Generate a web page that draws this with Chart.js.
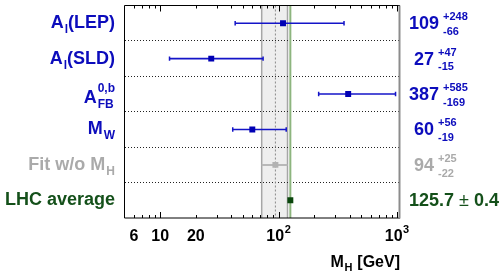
<!DOCTYPE html>
<html><head><meta charset="utf-8">
<script src="https://cdn.jsdelivr.net/npm/chart.js@4.4.1/dist/chart.umd.min.js"></script>
<style>html,body{margin:0;padding:0;background:#fff;overflow:hidden}</style>
</head><body>
<canvas id="c" width="501" height="280"></canvas>
<script>
// ---- data ----
const labelMain = ['A', 'A', 'A', 'M', 'Fit w/o M', 'LHC average'];
const labelSub  = ['l', 'l', 'FB', 'W', 'H', ''];
const labelSup  = ['', '', '0,b', '', '', ''];
const labelTail = ['(LEP)', '(SLD)', '', '', '', ''];
const central  = [109, 27, 387, 60, 94, 125.7];
const errPlus  = [248, 47, 585, 56, 25, 0.4];
const errMinus = [66, 15, 169, 19, 22, 0.4];
const tickValues = [6, 10, 20, 100, 1000];
const tickLabels = ['6', '10', '20', '10^2', '10^3'];
const minorTickValues = [6, 7, 8, 9, 20, 30, 40, 50, 60, 70, 80, 90, 200, 300, 400, 500, 600, 700, 800, 900];
const majorTickValues = [10, 100, 1000];
const axisTitleMain = 'M';
const axisTitleSub = 'H';
const axisTitleTail = ' [GeV]';

// ---- styles ----
const FONT = '"Liberation Sans", Arial, Helvetica, sans-serif';
const textColor   = ['#0c0cbc', '#0c0cbc', '#0c0cbc', '#0c0cbc', '#aaaaaa', '#14501a'];
const markerColor = ['#0000b4', '#0000b4', '#0000b4', '#0000b4', '#b2b2b2', '#0a460c'];
const barColor    = ['#1414c8', '#1414c8', '#1414c8', '#1414c8', '#b8b8b8', '#0a460c'];
const FIT = 4, LHC = 5;
const rowY = i => i + 0.5;

const datasets = [];
datasets.push({
  data: [{x: central[LHC], y: 0}, {x: central[LHC], y: 6}],
  showLine: true, borderColor: '#8db57e', borderWidth: 2, pointRadius: 0, order: 5
});
datasets.push({
  data: [{x: central[FIT], y: 0}, {x: central[FIT], y: 6}],
  showLine: true, borderColor: '#8a8a8a', borderWidth: 1, borderDash: [2, 2], pointRadius: 0, order: 5
});
central.forEach((c, i) => {
  datasets.push({
    data: [{x: c - errMinus[i], y: rowY(i)}, {x: c + errPlus[i], y: rowY(i)}],
    showLine: true, borderColor: barColor[i], borderWidth: i === FIT ? 2 : 1.6,
    pointStyle: 'line', pointRotation: 90, pointRadius: i < FIT ? 2.2 : 0,
    pointBorderColor: barColor[i], pointBorderWidth: 1.5, order: 3
  });
});
datasets.push({
  data: central.map((c, i) => ({x: c, y: rowY(i)})),
  pointStyle: 'rect', pointRadius: 4.2, pointBackgroundColor: markerColor,
  pointBorderWidth: 0, order: 1
});

function drawLabel(ctx, i, xr, yc) {
  const main = labelMain[i], sub = labelSub[i], sup = labelSup[i], tail = labelTail[i];
  const base = yc + (sup ? 8.5 : 5);
  ctx.fillStyle = textColor[i];
  ctx.textAlign = 'left'; ctx.textBaseline = 'alphabetic';
  ctx.font = 'bold 18px ' + FONT;
  const wm = ctx.measureText(main).width;
  const wt = tail ? ctx.measureText(tail).width : 0;
  ctx.font = 'bold 12px ' + FONT;
  const ws = sub ? ctx.measureText(sub).width : 0;
  const wp = sup ? ctx.measureText(sup).width : 0;
  const wss = (sub || sup) ? Math.max(ws, wp) + 1 : 0;
  let x = xr - wt - wss - wm;
  ctx.font = 'bold 18px ' + FONT;
  ctx.fillText(main, x, base);
  x += wm + ((sub || sup) ? 1 : 0);
  ctx.font = 'bold 12px ' + FONT;
  if (sup) ctx.fillText(sup, x, base - 10.5);
  if (sub) ctx.fillText(sub, x, base + 5);
  x += Math.max(ws, wp);
  if (tail) { ctx.font = 'bold 18px ' + FONT; ctx.fillText(tail, x, base); }
}

function drawValue(ctx, i, xl, xc, yc) {
  ctx.fillStyle = textColor[i];
  ctx.textAlign = 'left'; ctx.textBaseline = 'alphabetic';
  const s = String(central[i]);
  const base = yc + 6;
  if (errPlus[i] === errMinus[i]) {
    let x = xl;
    ctx.font = 'bold 18px ' + FONT;
    ctx.fillText(s, x, base); x += ctx.measureText(s + ' ').width;
    ctx.font = '18px ' + FONT;
    ctx.fillText('\u00B1', x, base); x += ctx.measureText('\u00B1').width;
    ctx.font = 'bold 18px ' + FONT;
    x += ctx.measureText(' ').width;
    ctx.fillText(String(errPlus[i]), x, base);
  } else {
    ctx.font = 'bold 18px ' + FONT;
    const w = ctx.measureText(s).width;
    const x0 = xc - w / 2;
    ctx.fillText(s, x0, base);
    ctx.font = 'bold 11px ' + FONT;
    ctx.fillText('+' + errPlus[i], x0 + w + 4, yc - 3);
    ctx.fillText('-' + errMinus[i], x0 + w + 4, yc + 11.7);
  }
}

function drawTickLabel(ctx, label, px, base) {
  const parts = label.split('^');
  ctx.font = 'bold 16px ' + FONT;
  const wb = ctx.measureText(parts[0]).width;
  let we = 0;
  if (parts[1]) { ctx.font = 'bold 11px ' + FONT; we = ctx.measureText(parts[1]).width + 0.5; }
  const x0 = px - (wb + we) / 2;
  ctx.font = 'bold 16px ' + FONT;
  ctx.fillText(parts[0], x0, base);
  if (parts[1]) { ctx.font = 'bold 11px ' + FONT; ctx.fillText(parts[1], x0 + wb + 0.5, base - 7.5); }
}

const decor = {
  id: 'decor',
  beforeDraw(chart) {
    const {ctx, chartArea: a, scales: {x}} = chart;
    ctx.save();
    ctx.fillStyle = '#fff';
    ctx.fillRect(0, 0, chart.width, chart.height);
    const x0 = x.getPixelForValue(central[FIT] - errMinus[FIT]);
    const x1 = x.getPixelForValue(central[FIT] + errPlus[FIT]);
    ctx.fillStyle = '#eeeeee';
    ctx.fillRect(x0, a.top, x1 - x0, a.bottom - a.top);
    ctx.strokeStyle = '#a6a6a6'; ctx.lineWidth = 1.5;
    ctx.beginPath();
    ctx.moveTo(x0, a.top); ctx.lineTo(x0, a.bottom);
    ctx.moveTo(x1, a.top); ctx.lineTo(x1, a.bottom);
    ctx.stroke();
    ctx.restore();
  },
  afterDraw(chart) {
    const {ctx, chartArea: a, scales: {x, y}} = chart;
    ctx.save();
    // frame
    ctx.strokeStyle = '#000'; ctx.lineWidth = 1;
    ctx.beginPath();
    ctx.moveTo(a.left, a.top); ctx.lineTo(a.right, a.top);
    ctx.moveTo(a.left, a.top); ctx.lineTo(a.left, a.bottom);
    ctx.moveTo(a.left, a.bottom); ctx.lineTo(a.right, a.bottom);
    ctx.stroke();
    ctx.strokeStyle = '#8c8c8c'; ctx.lineWidth = 2;
    ctx.beginPath(); ctx.moveTo(a.right - 0.5, a.top); ctx.lineTo(a.right - 0.5, a.bottom + 0.5); ctx.stroke();
    // inward ticks
    ctx.strokeStyle = '#000'; ctx.lineWidth = 1;
    ctx.beginPath();
    const tick = (v, len) => {
      const px = Math.round(x.getPixelForValue(v)) + 0.5;
      ctx.moveTo(px, a.bottom); ctx.lineTo(px, a.bottom - len);
      ctx.moveTo(px, a.top); ctx.lineTo(px, a.top + len);
    };
    minorTickValues.forEach(v => tick(v, 3));
    majorTickValues.forEach(v => tick(v, 6));
    ctx.stroke();
    // tick labels
    ctx.fillStyle = '#000'; ctx.textAlign = 'left'; ctx.textBaseline = 'alphabetic';
    tickValues.forEach((v, k) => drawTickLabel(ctx, tickLabels[k], x.getPixelForValue(v), a.bottom + 22.7));
    // row labels and values
    central.forEach((c, i) => {
      const yc = y.getPixelForValue(rowY(i));
      drawLabel(ctx, i, a.left - 9.5, yc);
      drawValue(ctx, i, a.right + 9, a.right + 24, yc);
    });
    // axis title
    ctx.fillStyle = '#000'; ctx.textAlign = 'left'; ctx.textBaseline = 'alphabetic';
    ctx.font = 'bold 16px ' + FONT;
    const wM = ctx.measureText(axisTitleMain).width;
    const wT = ctx.measureText(axisTitleTail).width;
    ctx.font = 'bold 11px ' + FONT;
    const wH = ctx.measureText(axisTitleSub).width;
    let tx = a.right - wT - wH - wM - 1;
    const tb = 266.5;
    ctx.font = 'bold 16px ' + FONT;
    ctx.fillText(axisTitleMain, tx, tb); tx += wM + 0.5;
    ctx.font = 'bold 11px ' + FONT;
    ctx.fillText(axisTitleSub, tx, tb + 4); tx += wH + 0.5;
    ctx.font = 'bold 16px ' + FONT;
    ctx.fillText(axisTitleTail, tx, tb);
    ctx.restore();
  }
};

new Chart(document.getElementById('c'), {
  type: 'scatter',
  data: {datasets},
  plugins: [decor],
  options: {
    responsive: false, animation: false, devicePixelRatio: 1, events: [],
    layout: {padding: {left: 124.5, right: 101, top: 3, bottom: 0}},
    plugins: {legend: {display: false}, tooltip: {enabled: false}},
    scales: {
      x: {
        type: 'logarithmic', min: 5, max: 1060, position: 'bottom',
        grid: {display: false, drawTicks: false}, border: {display: false},
        afterBuildTicks: s => { s.ticks = tickValues.map(v => ({value: v})); },
        afterFit: s => { s.height = 62; },
        ticks: {display: false}
      },
      y: {
        type: 'linear', min: 0, max: 6, reverse: true,
        ticks: {display: false, stepSize: 1},
        grid: {
          drawTicks: false, lineWidth: 1,
          color: c => (c.tick && c.tick.value > 0 && c.tick.value < 6) ? '#222' : 'rgba(0,0,0,0)'
        },
        border: {display: false, dash: [1, 2]},
        afterFit: s => { s.width = 0; }
      }
    }
  }
});
</script>
</body></html>
